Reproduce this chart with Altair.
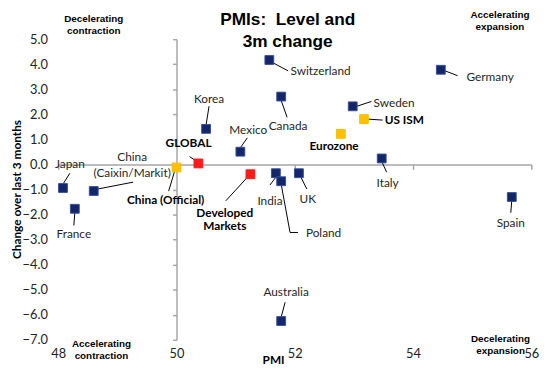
import altair as alt
import pandas as pd

# ---- data ----
names = ["Switzerland", "Germany", "Canada", "Sweden", "US ISM", "Eurozone", "Italy",
         "Korea", "Mexico", "GLOBAL", "China\n(Caixin/Markit)", "China (Official)",
         "Japan", "France", "Developed\nMarkets", "India", "Poland", "UK", "Spain", "Australia"]
pmi = [51.57, 54.47, 51.77, 52.98, 53.17, 52.78, 53.47,
       50.50, 51.08, 50.37, 48.60, 50.00,
       48.08, 48.28, 51.25, 51.68, 51.77, 52.07, 55.67, 51.77]
change = [4.17, 3.78, 2.71, 2.32, 1.81, 1.22, 0.24,
          1.42, 0.51, 0.04, -1.06, -0.12,
          -0.94, -1.77, -0.39, -0.35, -0.67, -0.35, -1.30, -6.25]
group = ["Country", "Country", "Country", "Country", "Headline", "Headline", "Country",
         "Country", "Country", "Aggregate", "Country", "Headline",
         "Country", "Country", "Aggregate", "Country", "Country", "Country", "Country", "Country"]

x_ticks = [48, 50, 52, 54, 56]
y_ticks = [-7, -6, -5, -4, -3, -2, -1, 0, 1, 2, 3, 4, 5]

title_text = ["PMIs:\u00a0 Level and\n3m change"]
title_x = [51.88]
title_y = [5.76]

corner_text = ["Decelerating\ncontraction", "Accelerating\nexpansion",
               "Accelerating\ncontraction", "Decelerating\nexpansion"]
corner_x = [48.6, 55.47, 48.73, 55.48]
corner_y = [5.80, 5.95, -7.16, -6.96]

# ---- annotation placement (pixel offsets from each point; first text line) ----
lab_dx = [52, 50, 7, 42, 41, -7, 6, 3, 8, -10, 39, -11, 7, -1, -26, -6, 43, 9, -1, 5]
lab_dy = [11, 7, 30, -3, 1, 12, 25, -30, -22, -21, -34, 33, -24, 26, 39, 28, 53, 26, 26, -29]

seg_point = [0, 1, 2, 3, 4, 6, 7, 8, 9, 10, 11, 12, 13, 14, 15, 16, 16, 17, 18, 19]
seg_x0 = [4, 4, 0, 4, 4, 0, 0, 0, -3, 4, -2, 0, 0, -3, 0, 0, 9, 2, 0, 0]
seg_y0 = [3, 1, 4, 0, 0, 3, -4, -4, -3, -2, 4, -4, 4, 3, 4, 3, 52, 4, 3, -4]
seg_x1 = [19, 17, 6, 19, 19, 5, 3, 7, -9, 40, -8, 7, -1, -25, -6, 9, 17, 8, -1, 4]
seg_y1 = [11, 6, 21, -5, 1, 14, -23, -14, -7, -9, 24, -15, 17, 27, 12, 52, 52, 16, 16, -19]

W, H = 480, 305
X_DOM, Y_DOM = [48, 56], [-7, 5]
ppx = W / (X_DOM[1] - X_DOM[0])
ppy = H / (Y_DOM[1] - Y_DOM[0])

pts = pd.DataFrame({"name": names, "pmi": pmi, "change": change, "group": group})
pts["bold"] = pts["group"] != "Country"
pts["lx"] = [p + d / ppx for p, d in zip(pmi, lab_dx)]
pts["ly"] = [c - d / ppy for c, d in zip(change, lab_dy)]

segs = pd.DataFrame({
    "x": [pmi[i] + a / ppx for i, a in zip(seg_point, seg_x0)],
    "y": [change[i] - a / ppy for i, a in zip(seg_point, seg_y0)],
    "x2": [pmi[i] + a / ppx for i, a in zip(seg_point, seg_x1)],
    "y2": [change[i] - a / ppy for i, a in zip(seg_point, seg_y1)],
})
corners = pd.DataFrame({"t": corner_text, "x": corner_x, "y": corner_y})
titles = pd.DataFrame({"t": title_text, "x": title_x, "y": title_y})

xs = alt.Scale(domain=X_DOM, nice=False, zero=False)
ys = alt.Scale(domain=Y_DOM, nice=False, zero=False)

# axis with labels at the edges of the plot
label_layer = alt.Chart(pts).mark_point(opacity=0).encode(
    x=alt.X("pmi:Q", scale=xs, axis=alt.Axis(
        orient="bottom", values=x_ticks, domain=False, ticks=False, grid=False,
        labelFlush=False, labelFont="Lato", labelFontSize=13, labelColor="#222222",
        labelPadding=8, title="PMI", titleX=218, titleY=20, titleFont="Lato",
        titleFontSize=12, titleFontWeight="bold", titleColor="#000000",
        titleBaseline="middle", titleAlign="center")),
    y=alt.Y("change:Q", scale=ys, axis=alt.Axis(
        orient="left", values=y_ticks, format=".1f", domain=False, ticks=False, grid=False,
        labelFont="Lato", labelFontSize=13, labelColor="#222222", labelPadding=11,
        title="Change over last 3 months", titleX=-42, titleY=152, titleAngle=270,
        titleFont="Lato", titleFontSize=12, titleFontWeight="bold", titleColor="#000000",
        titleBaseline="middle", titleAlign="center")),
)

# axis lines crossing at (50, 0)
cross_layer = alt.Chart(pts).mark_point(opacity=0).encode(
    x=alt.X("pmi:Q", scale=xs, axis=alt.Axis(
        orient="bottom", values=x_ticks, labels=False, grid=False, title=None,
        domainColor="#a6a6a6", domainWidth=1.5, tickColor="#a6a6a6", tickWidth=1.5,
        tickSize=5, offset=-(H - H * Y_DOM[1] / (Y_DOM[1] - Y_DOM[0])))),
    y=alt.Y("change:Q", scale=ys, axis=alt.Axis(
        orient="left", values=y_ticks, labels=False, grid=False, title=None,
        domainColor="#a6a6a6", domainWidth=1.5, tickColor="#a6a6a6", tickWidth=1.5,
        tickSize=4, offset=-(W * (50 - X_DOM[0]) / (X_DOM[1] - X_DOM[0])))),
)

leaders = alt.Chart(segs).mark_rule(color="#000000", strokeWidth=1).encode(
    x=alt.X("x:Q", scale=xs, axis=None), y=alt.Y("y:Q", scale=ys, axis=None),
    x2="x2:Q", y2="y2:Q",
)

squares = alt.Chart(pts).mark_square(size=80, filled=True, opacity=1, strokeWidth=1).encode(
    x=alt.X("pmi:Q", scale=xs, axis=None),
    y=alt.Y("change:Q", scale=ys, axis=None),
    color=alt.Color("group:N", legend=None, scale=alt.Scale(
        domain=["Country", "Aggregate", "Headline"],
        range=["#142668", "#ff1a1a", "#ffc000"])),
    stroke=alt.Stroke("group:N", legend=None, scale=alt.Scale(
        domain=["Country", "Aggregate", "Headline"],
        range=["#34509a", "#ff1a1a", "#ffc000"])),
)

labels_normal = alt.Chart(pts).transform_filter("!datum.bold").mark_text(
    font="Lato", fontSize=12, color="#262626", lineBreak="\n", lineHeight=16,
    align="center", baseline="middle").encode(
    x=alt.X("lx:Q", scale=xs, axis=None), y=alt.Y("ly:Q", scale=ys, axis=None), text="name:N")

labels_bold = alt.Chart(pts).transform_filter("datum.bold").mark_text(
    font="Lato", fontSize=12, fontWeight="bold", color="#000000", lineBreak="\n",
    lineHeight=14, align="center", baseline="middle").encode(
    x=alt.X("lx:Q", scale=xs, axis=None), y=alt.Y("ly:Q", scale=ys, axis=None), text="name:N")

corner_labels = alt.Chart(corners).mark_text(
    font="Liberation Sans", fontSize=10, fontWeight="bold", color="#000000",
    lineBreak="\n", lineHeight=12, align="center", baseline="middle").encode(
    x=alt.X("x:Q", scale=xs, axis=None), y=alt.Y("y:Q", scale=ys, axis=None), text="t:N")

title_mark = alt.Chart(titles).mark_text(
    font="Liberation Sans", fontSize=17.5, fontWeight="bold", color="#000000",
    lineBreak="\n", lineHeight=22, align="center", baseline="middle").encode(
    x=alt.X("x:Q", scale=xs, axis=None), y=alt.Y("y:Q", scale=ys, axis=None), text="t:N")

chart = alt.layer(
    label_layer, cross_layer, leaders, squares, labels_normal, labels_bold,
    corner_labels, title_mark
).resolve_axis(x="independent", y="independent").properties(
    width=W, height=H,
    autosize=alt.AutoSizeParams(type="none"),
    padding={"left": 51, "top": 29, "right": 21, "bottom": 29},
).configure_view(stroke=None)

chart.save("out.html", embed_options={"renderer": "svg", "actions": False})
